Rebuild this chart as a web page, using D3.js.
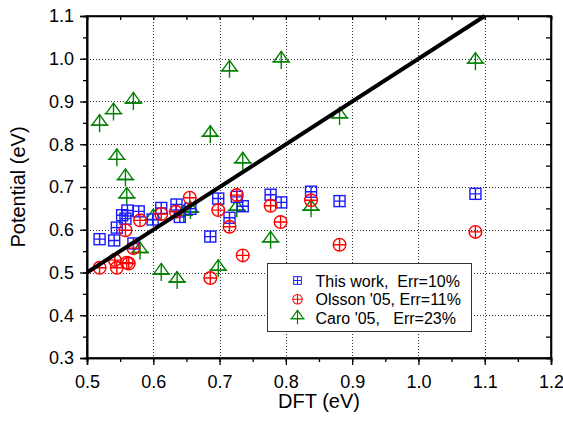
<!DOCTYPE html>
<html>
<head>
<meta charset="utf-8">
<script src="https://cdn.jsdelivr.net/npm/d3@7"></script>
<style>
  body { margin: 0; background: #fff; }
  svg { font-family: "Liberation Sans", Arial, sans-serif; }
</style>
</head>
<body>
<div id="chart"></div>
<script>
// DFT values (x) and potentials (y) for each data set
var thisWorkDft = [0.519, 0.541, 0.545, 0.553, 0.558, 0.561, 0.570, 0.578, 0.599, 0.612, 0.635, 0.640, 0.656, 0.686, 0.698, 0.715, 0.726, 0.735, 0.777, 0.793, 0.838, 0.881, 1.086];
var thisWorkPot = [0.578, 0.575, 0.605, 0.634, 0.626, 0.645, 0.568, 0.643, 0.624, 0.651, 0.659, 0.630, 0.649, 0.584, 0.673, 0.628, 0.677, 0.655, 0.682, 0.664, 0.689, 0.667, 0.684];

var olssonDft = [0.519, 0.542, 0.545, 0.558, 0.560, 0.563, 0.570, 0.580, 0.612, 0.634, 0.655, 0.686, 0.698, 0.715, 0.726, 0.735, 0.777, 0.792, 0.838, 0.881, 1.086];
var olssonPot = [0.511, 0.529, 0.511, 0.599, 0.523, 0.521, 0.557, 0.622, 0.637, 0.642, 0.675, 0.487, 0.646, 0.607, 0.681, 0.540, 0.656, 0.618, 0.669, 0.565, 0.595];

var caroDft = [0.519, 0.540, 0.545, 0.558, 0.560, 0.570, 0.580, 0.600, 0.612, 0.636, 0.646, 0.656, 0.686, 0.698, 0.715, 0.726, 0.735, 0.777, 0.793, 0.838, 0.881, 1.086];
var caroPot = [0.847, 0.874, 0.767, 0.720, 0.677, 0.899, 0.549, 0.626, 0.499, 0.480, 0.636, 0.644, 0.821, 0.508, 0.974, 0.648, 0.759, 0.574, 0.995, 0.648, 0.864, 0.992];

var legendLabels = ["This work,  Err=10%", "Olsson '05, Err=11%", "Caro '05,   Err=23%"];
var xTicks = [0.5, 0.6, 0.7, 0.8, 0.9, 1.0, 1.1, 1.2];
var yTicks = [0.3, 0.4, 0.5, 0.6, 0.7, 0.8, 0.9, 1.0, 1.1];

var width = 563, height = 422;
var margin = { top: 16, right: 12, bottom: 64, left: 87 };

var svg = d3.select("#chart").append("svg")
    .attr("width", width)
    .attr("height", height);

var x = d3.scaleLinear().domain([0.5, 1.2]).range([margin.left, width - margin.right]);
var y = d3.scaleLinear().domain([0.3, 1.1]).range([height - margin.bottom, margin.top]);

var x0 = x.range()[0], x1 = x.range()[1], y0 = y.range()[0], y1 = y.range()[1];

// dotted grid at the inner major ticks
var grid = svg.append("g").attr("stroke", "#333").attr("stroke-width", 1).attr("stroke-dasharray", "1,2");
grid.selectAll(".gx").data(xTicks.slice(1, -1)).join("line")
    .attr("x1", d => Math.round(x(d)) + 0.5).attr("x2", d => Math.round(x(d)) + 0.5)
    .attr("y1", y1).attr("y2", y0);
grid.selectAll(".gy").data(yTicks.slice(1, -1)).join("line")
    .attr("x1", x0).attr("x2", x1)
    .attr("y1", d => Math.round(y(d)) + 0.5).attr("y2", d => Math.round(y(d)) + 0.5);

// axes: bottom and left outward, top and right ticks inward
var minorX = d3.range(0.5, 1.2001, 0.05);
var minorY = d3.range(0.3, 1.1001, 0.05);

var bottom = svg.append("g").attr("transform", "translate(0," + y0 + ")");
bottom.call(d3.axisBottom(x).tickValues(minorX).tickSize(4).tickFormat(""));
bottom.call(g => g.append("g").call(d3.axisBottom(x).tickValues(xTicks).tickSize(7).tickFormat(d3.format(".1f"))));

var left = svg.append("g").attr("transform", "translate(" + x0 + ",0)");
left.call(d3.axisLeft(y).tickValues(minorY).tickSize(4).tickFormat(""));
left.call(g => g.append("g").call(d3.axisLeft(y).tickValues(yTicks).tickSize(7).tickFormat(d3.format(".1f"))));

svg.append("g").attr("transform", "translate(0," + y1 + ")")
    .call(d3.axisBottom(x).tickValues(minorX).tickSize(4).tickFormat(""));
svg.append("g").attr("transform", "translate(" + x1 + ",0)")
    .call(d3.axisLeft(y).tickValues(minorY).tickSize(5).tickFormat(""));

svg.selectAll(".domain").attr("stroke", "#000").attr("stroke-width", 1.6);
svg.selectAll(".tick line").attr("stroke", "#000").attr("stroke-width", 1.3);
svg.selectAll(".tick text").attr("font-size", 18).attr("fill", "#000")
    .style("font-family", "'Liberation Sans', Arial, sans-serif");
bottom.selectAll(".tick text").attr("dy", "1.1em");
left.selectAll(".tick text").attr("x", -13);

// frame
svg.append("rect").attr("x", x0).attr("y", y1).attr("width", x1 - x0).attr("height", y0 - y1)
    .attr("fill", "none").attr("stroke", "#000").attr("stroke-width", 1.6);

// axis titles
svg.append("text").attr("x", (x0 + x1) / 2).attr("y", 408).attr("text-anchor", "middle")
    .attr("font-size", 20).text("DFT (eV)");
svg.append("text").attr("transform", "translate(25," + ((y0 + y1) / 2) + ") rotate(-90)")
    .attr("text-anchor", "middle").attr("font-size", 20).text("Potential (eV)");

// marker shapes
function squareMark(g, c) {
    g.append("rect").attr("x", -5.5).attr("y", -5.5).attr("width", 11).attr("height", 11)
        .attr("fill", "none").attr("stroke", c).attr("stroke-width", 1.4);
    g.append("path").attr("d", "M-5.5,0H5.5M0,-5.5V5.5").attr("stroke", c).attr("stroke-width", 1.4);
}
function circleMark(g, c) {
    g.append("circle").attr("r", 6.3).attr("fill", "none").attr("stroke", c).attr("stroke-width", 1.4);
    g.append("path").attr("d", "M-6.3,0H6.3M0,-6.3V6.3").attr("stroke", c).attr("stroke-width", 1.4);
}
function triMark(g, c) {
    g.append("path").attr("d", "M0,-9.5L7.5,1L-7.5,1Z").attr("fill", "none").attr("stroke", c).attr("stroke-width", 1.4);
    g.append("path").attr("d", "M-9,1H9M0,-9.5V8").attr("stroke", c).attr("stroke-width", 1.4);
}

var series = [
    { dft: caroDft, pot: caroPot, color: "#008000", mark: triMark },
    { dft: thisWorkDft, pot: thisWorkPot, color: "#1a1aff", mark: squareMark },
    { dft: olssonDft, pot: olssonPot, color: "#ff0000", mark: circleMark }
];

series.forEach(function (s) {
    svg.append("g").selectAll("g")
        .data(d3.zip(s.dft, s.pot))
        .join("g")
        .attr("transform", d => "translate(" + x(d[0]) + "," + y(d[1]) + ")")
        .each(function () { s.mark(d3.select(this), s.color); });
});

// y = x reference line
svg.append("line")
    .attr("x1", x(0.5)).attr("y1", y(0.5))
    .attr("x2", x(1.1)).attr("y2", y(1.1))
    .attr("stroke", "#000").attr("stroke-width", 4);

// legend
var legend = svg.append("g").attr("transform", "translate(267.5,263.5)");
legend.append("rect").attr("width", 204).attr("height", 68)
    .attr("fill", "#fff").attr("stroke", "#333").attr("stroke-width", 1);
var legendMarks = [
    { color: "#1a1aff", mark: squareMark, scale: 0.7 },
    { color: "#ff0000", mark: circleMark, scale: 0.75 },
    { color: "#008000", mark: triMark, scale: 0.8 }
];
legendLabels.forEach(function (t, i) {
    var row = legend.append("g").attr("transform", "translate(0," + (17 + i * 18.7) + ")");
    var m = row.append("g").attr("transform", "translate(30,0) scale(" + legendMarks[i].scale + ")");
    legendMarks[i].mark(m, legendMarks[i].color);
    row.append("text").attr("x", 48).attr("y", 6).attr("font-size", 16)
        .style("white-space", "pre").attr("xml:space", "preserve").text(t);
});
</script>
</body>
</html>
